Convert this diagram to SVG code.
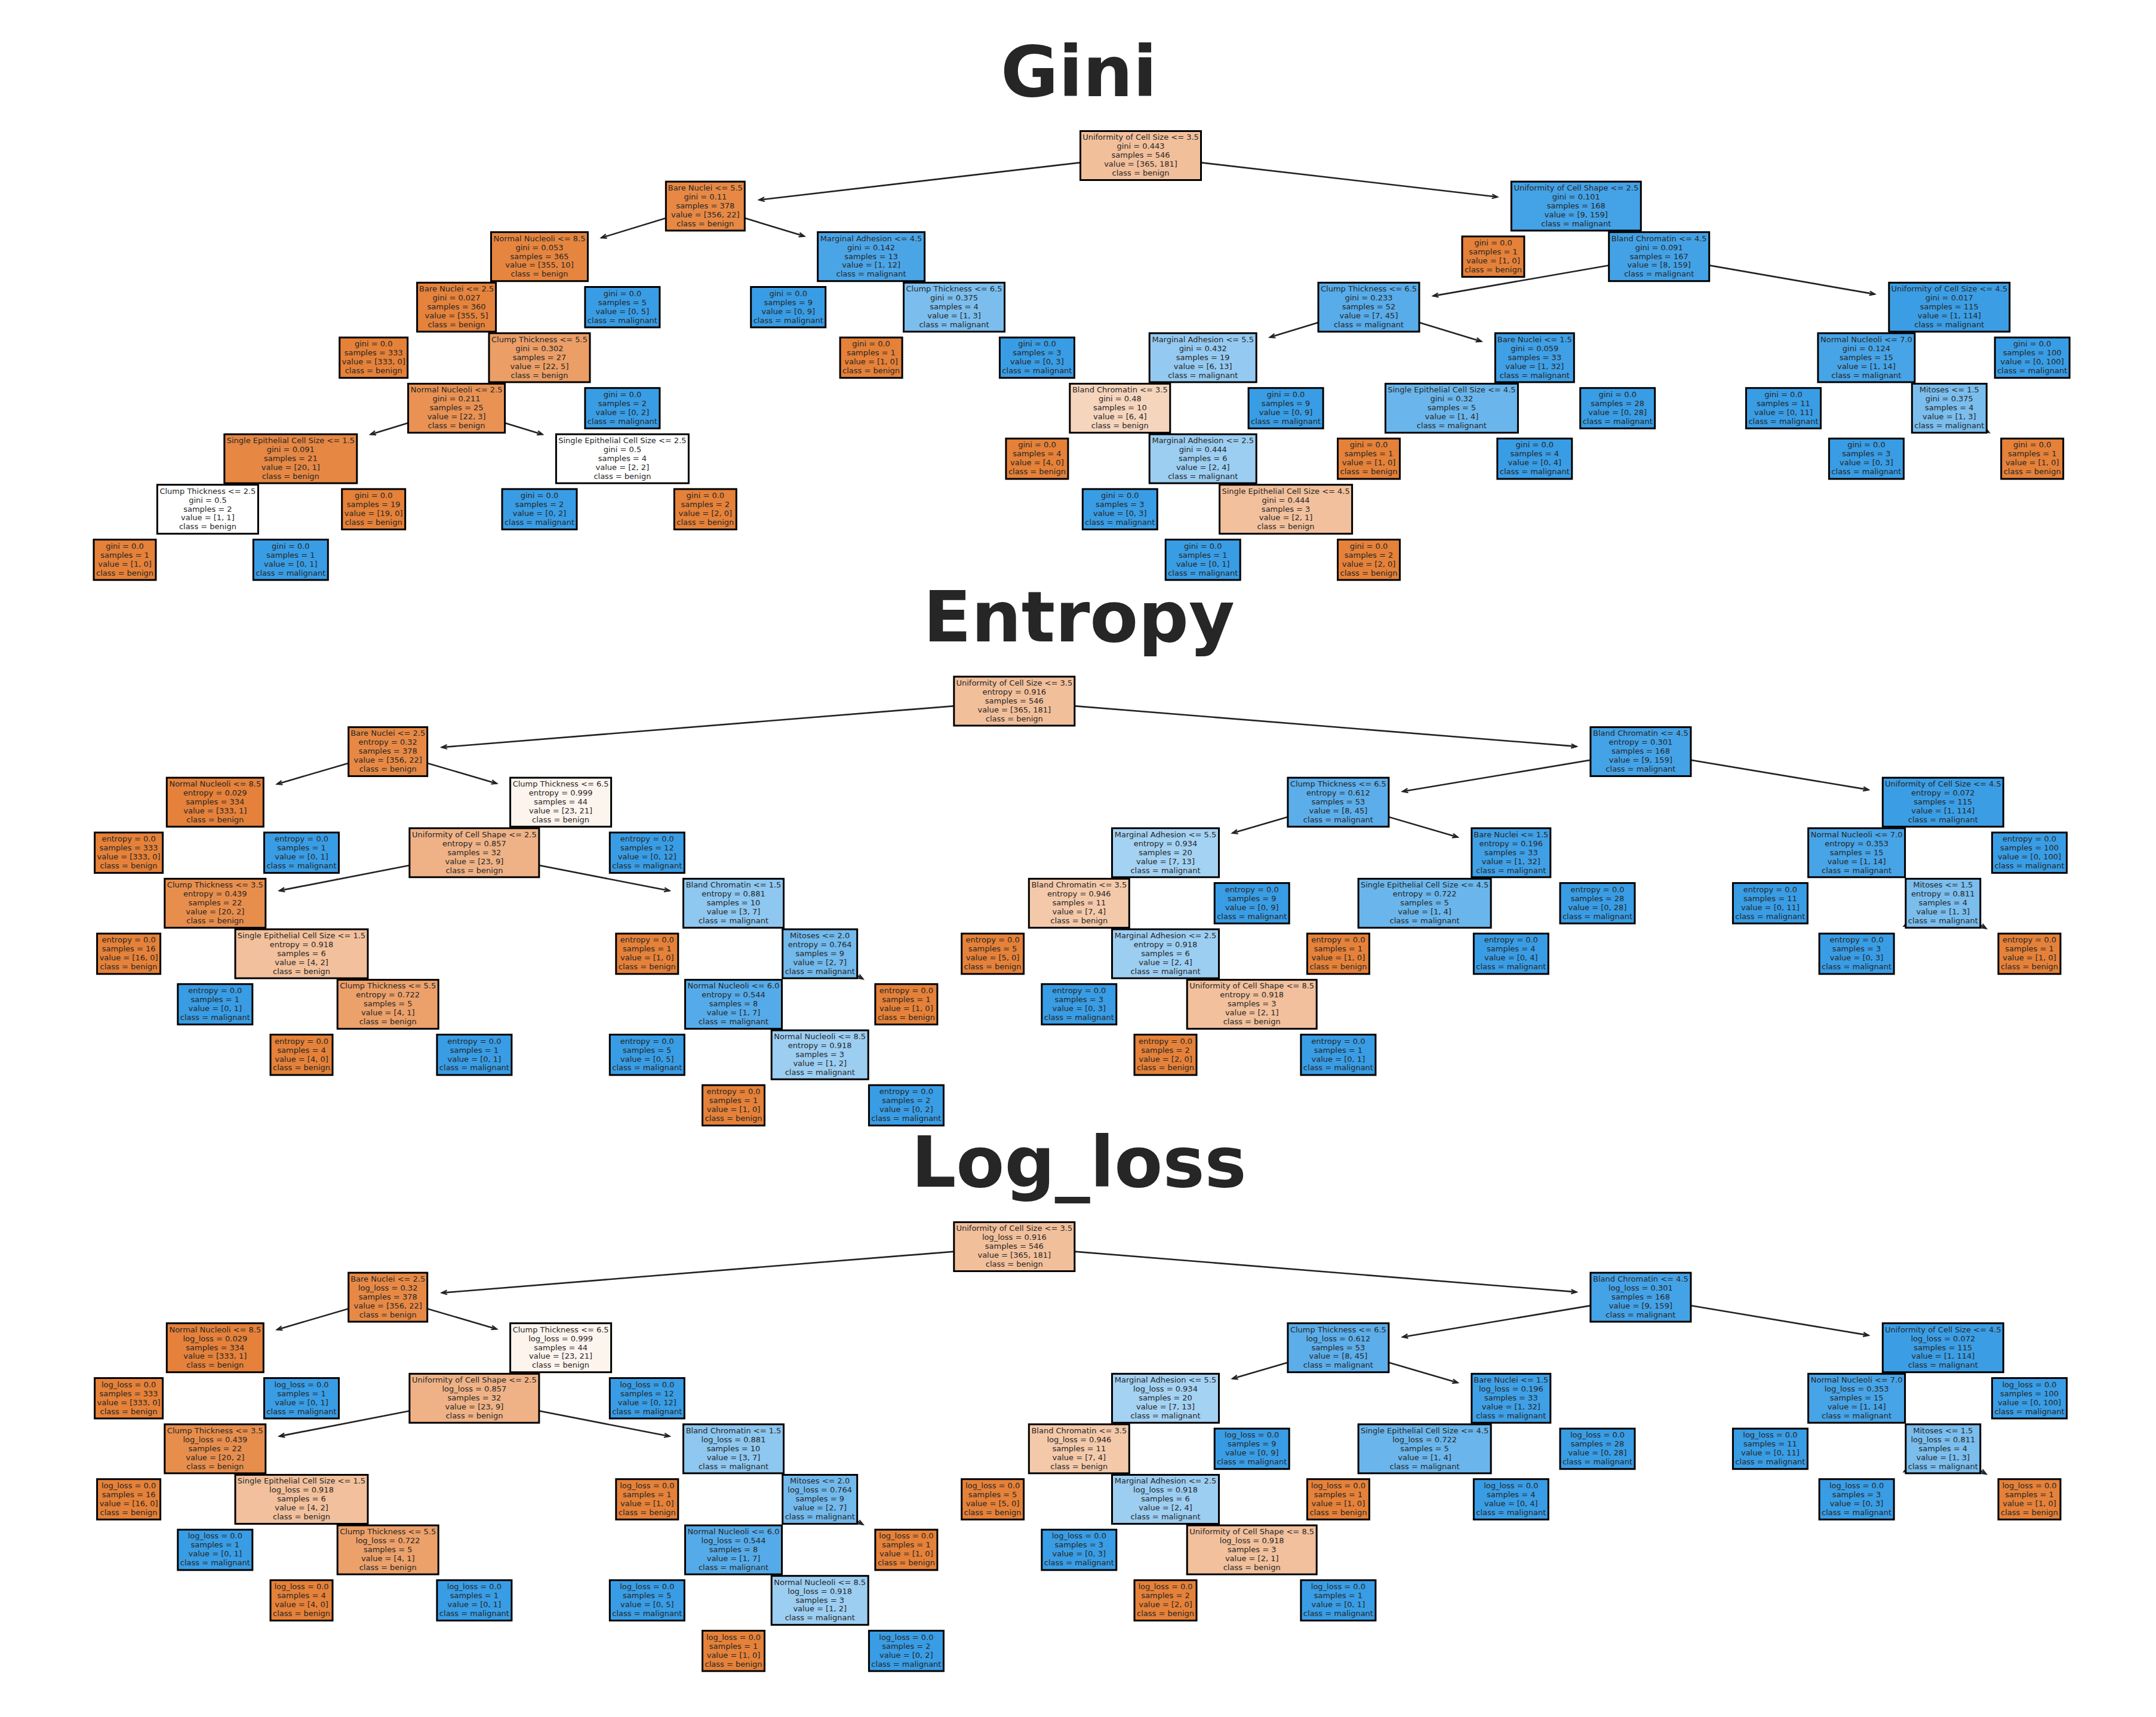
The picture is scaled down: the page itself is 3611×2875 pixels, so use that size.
<svg xmlns="http://www.w3.org/2000/svg" width="3611" height="2875" viewBox="0 0 3611 2875">
<defs>
<style>
text{font-family:"DejaVu Sans","Liberation Sans",sans-serif;font-size:13px;fill:#262626;text-anchor:middle}
text.t{font-weight:bold;font-size:118px}
rect{stroke:#000;stroke-width:3}
.B{fill:#e58139}
.M{fill:#399de5}
.c line{stroke:#222222;stroke-width:2.6;fill:none;marker-end:url(#ah)}
</style>
<marker id="ah" viewBox="0 0 12 10" markerWidth="12" markerHeight="10" refX="11" refY="5" orient="auto" markerUnits="userSpaceOnUse" overflow="visible"><path d="M2,1.5 L11,5 L2,8.5" fill="none" stroke="#222222" stroke-width="2.2"/></marker>
</defs>
<rect x="0" y="0" width="3611" height="2875" fill="#ffffff" style="stroke:none"/>
<text class="t" x="1807" y="160.5">Gini</text>
<text class="t" x="1807" y="1073.5">Entropy</text>
<text class="t" x="1807" y="1987">Log_loss</text>

<g id="connectors" class="c">
<g id="conn-gini">
<line x1="1910.5" y1="260.5" x2="1271.4" y2="334.7"/>
<line x1="1910.5" y1="260.5" x2="2507.9" y2="329.8"/>
<line x1="1181.3" y1="345.1" x2="1007.1" y2="398.2"/>
<line x1="1181.3" y1="345.1" x2="1347.1" y2="395.6"/>
<line x1="764.6" y1="683.5" x2="620.5" y2="727.4"/>
<line x1="764.6" y1="683.5" x2="908.7" y2="727.4"/>
<line x1="2778.7" y1="429.7" x2="2400.2" y2="495.6"/>
<line x1="2778.7" y1="429.7" x2="3140.1" y2="492.6"/>
<line x1="2292.5" y1="514.3" x2="2126.8" y2="564.8"/>
<line x1="2292.5" y1="514.3" x2="2481.1" y2="571.7"/>
<line x1="3264.8" y1="683.5" x2="3331.4" y2="724.1"/>
</g>
<g id="conn-entropy">
<line x1="1698.8" y1="1174" x2="739.8" y2="1251.3"/>
<line x1="1698.8" y1="1174" x2="2640.5" y2="1249.9"/>
<line x1="649.7" y1="1258.6" x2="463.9" y2="1312.9"/>
<line x1="649.7" y1="1258.6" x2="832" y2="1311.9"/>
<line x1="794.4" y1="1427.8" x2="467.9" y2="1491.4"/>
<line x1="794.4" y1="1427.8" x2="1121.4" y2="1491.5"/>
<line x1="1373.2" y1="1597" x2="1445.4" y2="1639.2"/>
<line x1="2747.9" y1="1258.6" x2="2349.1" y2="1325.2"/>
<line x1="2747.9" y1="1258.6" x2="3129.6" y2="1322.4"/>
<line x1="2241.4" y1="1343.2" x2="2064.1" y2="1395"/>
<line x1="2241.4" y1="1343.2" x2="2441.5" y2="1401.7"/>
<line x1="3254.3" y1="1512.4" x2="3189" y2="1550.6"/>
<line x1="3254.3" y1="1512.4" x2="3326.5" y2="1554.6"/>
</g>
<g id="conn-logloss" transform="translate(0,913.5)">
<line x1="1698.8" y1="1174" x2="739.8" y2="1251.3"/>
<line x1="1698.8" y1="1174" x2="2640.5" y2="1249.9"/>
<line x1="649.7" y1="1258.6" x2="463.9" y2="1312.9"/>
<line x1="649.7" y1="1258.6" x2="832" y2="1311.9"/>
<line x1="794.4" y1="1427.8" x2="467.9" y2="1491.4"/>
<line x1="794.4" y1="1427.8" x2="1121.4" y2="1491.5"/>
<line x1="1373.2" y1="1597" x2="1445.4" y2="1639.2"/>
<line x1="2747.9" y1="1258.6" x2="2349.1" y2="1325.2"/>
<line x1="2747.9" y1="1258.6" x2="3129.6" y2="1322.4"/>
<line x1="2241.4" y1="1343.2" x2="2064.1" y2="1395"/>
<line x1="2241.4" y1="1343.2" x2="2441.5" y2="1401.7"/>
<line x1="3254.3" y1="1512.4" x2="3189" y2="1550.6"/>
<line x1="3254.3" y1="1512.4" x2="3326.5" y2="1554.6"/>
</g>
</g>

<g id="tree-gini">
<g id="gini-n0" transform="translate(1910.5,260.5)"><rect x="-101" y="-41" width="202" height="82" fill="#f2bf9b"/><text y="-26.2"><tspan x="0">Uniformity of Cell Size &lt;= 3.5</tspan><tspan x="0" dy="15">gini = 0.443</tspan><tspan x="0" dy="15">samples = 546</tspan><tspan x="0" dy="15">value = [365, 181]</tspan><tspan x="0" dy="15">class = benign</tspan></text></g>
<g id="gini-n1" transform="translate(1181.3,345.1)"><rect x="-66" y="-41" width="132" height="82" fill="#e78945"/><text y="-26.2"><tspan x="0">Bare Nuclei &lt;= 5.5</tspan><tspan x="0" dy="15">gini = 0.11</tspan><tspan x="0" dy="15">samples = 378</tspan><tspan x="0" dy="15">value = [356, 22]</tspan><tspan x="0" dy="15">class = benign</tspan></text></g>
<g id="gini-n2" transform="translate(2639.8,345.1)"><rect x="-108.5" y="-41" width="217" height="82" fill="#44a2e6"/><text y="-26.2"><tspan x="0">Uniformity of Cell Shape &lt;= 2.5</tspan><tspan x="0" dy="15">gini = 0.101</tspan><tspan x="0" dy="15">samples = 168</tspan><tspan x="0" dy="15">value = [9, 159]</tspan><tspan x="0" dy="15">class = malignant</tspan></text></g>
<g id="gini-n3" transform="translate(903.5,429.7)"><rect x="-81" y="-41" width="162" height="82" fill="#e6853f"/><text y="-26.2"><tspan x="0">Normal Nucleoli &lt;= 8.5</tspan><tspan x="0" dy="15">gini = 0.053</tspan><tspan x="0" dy="15">samples = 365</tspan><tspan x="0" dy="15">value = [355, 10]</tspan><tspan x="0" dy="15">class = benign</tspan></text></g>
<g id="gini-n4" transform="translate(1459.1,429.7)"><rect x="-89.5" y="-41" width="179" height="82" fill="#4aa5e7"/><text y="-26.2"><tspan x="0">Marginal Adhesion &lt;= 4.5</tspan><tspan x="0" dy="15">gini = 0.142</tspan><tspan x="0" dy="15">samples = 13</tspan><tspan x="0" dy="15">value = [1, 12]</tspan><tspan x="0" dy="15">class = malignant</tspan></text></g>
<g id="gini-n5" transform="translate(2500.9,429.7)"><rect class="B" x="-52" y="-33.8" width="104" height="67.6"/><text y="-18.7"><tspan x="0">gini = 0.0</tspan><tspan x="0" dy="15">samples = 1</tspan><tspan x="0" dy="15">value = [1, 0]</tspan><tspan x="0" dy="15">class = benign</tspan></text></g>
<g id="gini-n6" transform="translate(2778.7,429.7)"><rect x="-84" y="-41" width="168" height="82" fill="#43a2e6"/><text y="-26.2"><tspan x="0">Bland Chromatin &lt;= 4.5</tspan><tspan x="0" dy="15">gini = 0.091</tspan><tspan x="0" dy="15">samples = 167</tspan><tspan x="0" dy="15">value = [8, 159]</tspan><tspan x="0" dy="15">class = malignant</tspan></text></g>
<g id="gini-n7" transform="translate(764.6,514.3)"><rect x="-66" y="-41" width="132" height="82" fill="#e5833c"/><text y="-26.2"><tspan x="0">Bare Nuclei &lt;= 2.5</tspan><tspan x="0" dy="15">gini = 0.027</tspan><tspan x="0" dy="15">samples = 360</tspan><tspan x="0" dy="15">value = [355, 5]</tspan><tspan x="0" dy="15">class = benign</tspan></text></g>
<g id="gini-n8" transform="translate(1042.4,514.3)"><rect class="M" x="-62.5" y="-33.8" width="125" height="67.6"/><text y="-18.7"><tspan x="0">gini = 0.0</tspan><tspan x="0" dy="15">samples = 5</tspan><tspan x="0" dy="15">value = [0, 5]</tspan><tspan x="0" dy="15">class = malignant</tspan></text></g>
<g id="gini-n9" transform="translate(1320.2,514.3)"><rect class="M" x="-62.5" y="-33.8" width="125" height="67.6"/><text y="-18.7"><tspan x="0">gini = 0.0</tspan><tspan x="0" dy="15">samples = 9</tspan><tspan x="0" dy="15">value = [0, 9]</tspan><tspan x="0" dy="15">class = malignant</tspan></text></g>
<g id="gini-n10" transform="translate(1598,514.3)"><rect x="-84.5" y="-41" width="169" height="82" fill="#7bbeee"/><text y="-26.2"><tspan x="0">Clump Thickness &lt;= 6.5</tspan><tspan x="0" dy="15">gini = 0.375</tspan><tspan x="0" dy="15">samples = 4</tspan><tspan x="0" dy="15">value = [1, 3]</tspan><tspan x="0" dy="15">class = malignant</tspan></text></g>
<g id="gini-n11" transform="translate(2292.5,514.3)"><rect x="-84.5" y="-41" width="169" height="82" fill="#58ace9"/><text y="-26.2"><tspan x="0">Clump Thickness &lt;= 6.5</tspan><tspan x="0" dy="15">gini = 0.233</tspan><tspan x="0" dy="15">samples = 52</tspan><tspan x="0" dy="15">value = [7, 45]</tspan><tspan x="0" dy="15">class = malignant</tspan></text></g>
<g id="gini-n12" transform="translate(3264.8,514.3)"><rect x="-101" y="-41" width="202" height="82" fill="#3b9ee5"/><text y="-26.2"><tspan x="0">Uniformity of Cell Size &lt;= 4.5</tspan><tspan x="0" dy="15">gini = 0.017</tspan><tspan x="0" dy="15">samples = 115</tspan><tspan x="0" dy="15">value = [1, 114]</tspan><tspan x="0" dy="15">class = malignant</tspan></text></g>
<g id="gini-n13" transform="translate(625.7,598.9)"><rect class="B" x="-57" y="-33.8" width="114" height="67.6"/><text y="-18.7"><tspan x="0">gini = 0.0</tspan><tspan x="0" dy="15">samples = 333</tspan><tspan x="0" dy="15">value = [333, 0]</tspan><tspan x="0" dy="15">class = benign</tspan></text></g>
<g id="gini-n14" transform="translate(903.5,598.9)"><rect x="-84.5" y="-41" width="169" height="82" fill="#eb9e66"/><text y="-26.2"><tspan x="0">Clump Thickness &lt;= 5.5</tspan><tspan x="0" dy="15">gini = 0.302</tspan><tspan x="0" dy="15">samples = 27</tspan><tspan x="0" dy="15">value = [22, 5]</tspan><tspan x="0" dy="15">class = benign</tspan></text></g>
<g id="gini-n15" transform="translate(1459.1,598.9)"><rect class="B" x="-52" y="-33.8" width="104" height="67.6"/><text y="-18.7"><tspan x="0">gini = 0.0</tspan><tspan x="0" dy="15">samples = 1</tspan><tspan x="0" dy="15">value = [1, 0]</tspan><tspan x="0" dy="15">class = benign</tspan></text></g>
<g id="gini-n16" transform="translate(1736.9,598.9)"><rect class="M" x="-62.5" y="-33.8" width="125" height="67.6"/><text y="-18.7"><tspan x="0">gini = 0.0</tspan><tspan x="0" dy="15">samples = 3</tspan><tspan x="0" dy="15">value = [0, 3]</tspan><tspan x="0" dy="15">class = malignant</tspan></text></g>
<g id="gini-n17" transform="translate(2014.7,598.9)"><rect x="-89.5" y="-41" width="179" height="82" fill="#94caf1"/><text y="-26.2"><tspan x="0">Marginal Adhesion &lt;= 5.5</tspan><tspan x="0" dy="15">gini = 0.432</tspan><tspan x="0" dy="15">samples = 19</tspan><tspan x="0" dy="15">value = [6, 13]</tspan><tspan x="0" dy="15">class = malignant</tspan></text></g>
<g id="gini-n18" transform="translate(2570.3,598.9)"><rect x="-66" y="-41" width="132" height="82" fill="#3fa0e6"/><text y="-26.2"><tspan x="0">Bare Nuclei &lt;= 1.5</tspan><tspan x="0" dy="15">gini = 0.059</tspan><tspan x="0" dy="15">samples = 33</tspan><tspan x="0" dy="15">value = [1, 32]</tspan><tspan x="0" dy="15">class = malignant</tspan></text></g>
<g id="gini-n19" transform="translate(3125.9,598.9)"><rect x="-81" y="-41" width="162" height="82" fill="#47a4e7"/><text y="-26.2"><tspan x="0">Normal Nucleoli &lt;= 7.0</tspan><tspan x="0" dy="15">gini = 0.124</tspan><tspan x="0" dy="15">samples = 15</tspan><tspan x="0" dy="15">value = [1, 14]</tspan><tspan x="0" dy="15">class = malignant</tspan></text></g>
<g id="gini-n20" transform="translate(3403.7,598.9)"><rect class="M" x="-62.5" y="-33.8" width="125" height="67.6"/><text y="-18.7"><tspan x="0">gini = 0.0</tspan><tspan x="0" dy="15">samples = 100</tspan><tspan x="0" dy="15">value = [0, 100]</tspan><tspan x="0" dy="15">class = malignant</tspan></text></g>
<g id="gini-n21" transform="translate(764.6,683.5)"><rect x="-81" y="-41" width="162" height="82" fill="#e99254"/><text y="-26.2"><tspan x="0">Normal Nucleoli &lt;= 2.5</tspan><tspan x="0" dy="15">gini = 0.211</tspan><tspan x="0" dy="15">samples = 25</tspan><tspan x="0" dy="15">value = [22, 3]</tspan><tspan x="0" dy="15">class = benign</tspan></text></g>
<g id="gini-n22" transform="translate(1042.4,683.5)"><rect class="M" x="-62.5" y="-33.8" width="125" height="67.6"/><text y="-18.7"><tspan x="0">gini = 0.0</tspan><tspan x="0" dy="15">samples = 2</tspan><tspan x="0" dy="15">value = [0, 2]</tspan><tspan x="0" dy="15">class = malignant</tspan></text></g>
<g id="gini-n23" transform="translate(1875.8,683.5)"><rect x="-84" y="-41" width="168" height="82" fill="#f6d5bd"/><text y="-26.2"><tspan x="0">Bland Chromatin &lt;= 3.5</tspan><tspan x="0" dy="15">gini = 0.48</tspan><tspan x="0" dy="15">samples = 10</tspan><tspan x="0" dy="15">value = [6, 4]</tspan><tspan x="0" dy="15">class = benign</tspan></text></g>
<g id="gini-n24" transform="translate(2153.6,683.5)"><rect class="M" x="-62.5" y="-33.8" width="125" height="67.6"/><text y="-18.7"><tspan x="0">gini = 0.0</tspan><tspan x="0" dy="15">samples = 9</tspan><tspan x="0" dy="15">value = [0, 9]</tspan><tspan x="0" dy="15">class = malignant</tspan></text></g>
<g id="gini-n25" transform="translate(2431.4,683.5)"><rect x="-111" y="-41" width="222" height="82" fill="#6ab6ec"/><text y="-26.2"><tspan x="0">Single Epithelial Cell Size &lt;= 4.5</tspan><tspan x="0" dy="15">gini = 0.32</tspan><tspan x="0" dy="15">samples = 5</tspan><tspan x="0" dy="15">value = [1, 4]</tspan><tspan x="0" dy="15">class = malignant</tspan></text></g>
<g id="gini-n26" transform="translate(2709.2,683.5)"><rect class="M" x="-62.5" y="-33.8" width="125" height="67.6"/><text y="-18.7"><tspan x="0">gini = 0.0</tspan><tspan x="0" dy="15">samples = 28</tspan><tspan x="0" dy="15">value = [0, 28]</tspan><tspan x="0" dy="15">class = malignant</tspan></text></g>
<g id="gini-n27" transform="translate(2987,683.5)"><rect class="M" x="-62.5" y="-33.8" width="125" height="67.6"/><text y="-18.7"><tspan x="0">gini = 0.0</tspan><tspan x="0" dy="15">samples = 11</tspan><tspan x="0" dy="15">value = [0, 11]</tspan><tspan x="0" dy="15">class = malignant</tspan></text></g>
<g id="gini-n28" transform="translate(3264.8,683.5)"><rect x="-62.5" y="-41" width="125" height="82" fill="#7bbeee"/><text y="-26.2"><tspan x="0">Mitoses &lt;= 1.5</tspan><tspan x="0" dy="15">gini = 0.375</tspan><tspan x="0" dy="15">samples = 4</tspan><tspan x="0" dy="15">value = [1, 3]</tspan><tspan x="0" dy="15">class = malignant</tspan></text></g>
<g id="gini-n29" transform="translate(486.8,768.1)"><rect x="-111" y="-41" width="222" height="82" fill="#e68743"/><text y="-26.2"><tspan x="0">Single Epithelial Cell Size &lt;= 1.5</tspan><tspan x="0" dy="15">gini = 0.091</tspan><tspan x="0" dy="15">samples = 21</tspan><tspan x="0" dy="15">value = [20, 1]</tspan><tspan x="0" dy="15">class = benign</tspan></text></g>
<g id="gini-n30" transform="translate(1042.4,768.1)"><rect x="-111" y="-41" width="222" height="82" fill="#ffffff"/><text y="-26.2"><tspan x="0">Single Epithelial Cell Size &lt;= 2.5</tspan><tspan x="0" dy="15">gini = 0.5</tspan><tspan x="0" dy="15">samples = 4</tspan><tspan x="0" dy="15">value = [2, 2]</tspan><tspan x="0" dy="15">class = benign</tspan></text></g>
<g id="gini-n31" transform="translate(1736.9,768.1)"><rect class="B" x="-52" y="-33.8" width="104" height="67.6"/><text y="-18.7"><tspan x="0">gini = 0.0</tspan><tspan x="0" dy="15">samples = 4</tspan><tspan x="0" dy="15">value = [4, 0]</tspan><tspan x="0" dy="15">class = benign</tspan></text></g>
<g id="gini-n32" transform="translate(2014.7,768.1)"><rect x="-89.5" y="-41" width="179" height="82" fill="#9ccef2"/><text y="-26.2"><tspan x="0">Marginal Adhesion &lt;= 2.5</tspan><tspan x="0" dy="15">gini = 0.444</tspan><tspan x="0" dy="15">samples = 6</tspan><tspan x="0" dy="15">value = [2, 4]</tspan><tspan x="0" dy="15">class = malignant</tspan></text></g>
<g id="gini-n33" transform="translate(2292.5,768.1)"><rect class="B" x="-52" y="-33.8" width="104" height="67.6"/><text y="-18.7"><tspan x="0">gini = 0.0</tspan><tspan x="0" dy="15">samples = 1</tspan><tspan x="0" dy="15">value = [1, 0]</tspan><tspan x="0" dy="15">class = benign</tspan></text></g>
<g id="gini-n34" transform="translate(2570.3,768.1)"><rect class="M" x="-62.5" y="-33.8" width="125" height="67.6"/><text y="-18.7"><tspan x="0">gini = 0.0</tspan><tspan x="0" dy="15">samples = 4</tspan><tspan x="0" dy="15">value = [0, 4]</tspan><tspan x="0" dy="15">class = malignant</tspan></text></g>
<g id="gini-n35" transform="translate(3125.9,768.1)"><rect class="M" x="-62.5" y="-33.8" width="125" height="67.6"/><text y="-18.7"><tspan x="0">gini = 0.0</tspan><tspan x="0" dy="15">samples = 3</tspan><tspan x="0" dy="15">value = [0, 3]</tspan><tspan x="0" dy="15">class = malignant</tspan></text></g>
<g id="gini-n36" transform="translate(3403.7,768.1)"><rect class="B" x="-52" y="-33.8" width="104" height="67.6"/><text y="-18.7"><tspan x="0">gini = 0.0</tspan><tspan x="0" dy="15">samples = 1</tspan><tspan x="0" dy="15">value = [1, 0]</tspan><tspan x="0" dy="15">class = benign</tspan></text></g>
<g id="gini-n37" transform="translate(347.9,852.7)"><rect x="-84.5" y="-41" width="169" height="82" fill="#ffffff"/><text y="-26.2"><tspan x="0">Clump Thickness &lt;= 2.5</tspan><tspan x="0" dy="15">gini = 0.5</tspan><tspan x="0" dy="15">samples = 2</tspan><tspan x="0" dy="15">value = [1, 1]</tspan><tspan x="0" dy="15">class = benign</tspan></text></g>
<g id="gini-n38" transform="translate(625.7,852.7)"><rect class="B" x="-53" y="-33.8" width="106" height="67.6"/><text y="-18.7"><tspan x="0">gini = 0.0</tspan><tspan x="0" dy="15">samples = 19</tspan><tspan x="0" dy="15">value = [19, 0]</tspan><tspan x="0" dy="15">class = benign</tspan></text></g>
<g id="gini-n39" transform="translate(903.5,852.7)"><rect class="M" x="-62.5" y="-33.8" width="125" height="67.6"/><text y="-18.7"><tspan x="0">gini = 0.0</tspan><tspan x="0" dy="15">samples = 2</tspan><tspan x="0" dy="15">value = [0, 2]</tspan><tspan x="0" dy="15">class = malignant</tspan></text></g>
<g id="gini-n40" transform="translate(1181.3,852.7)"><rect class="B" x="-52" y="-33.8" width="104" height="67.6"/><text y="-18.7"><tspan x="0">gini = 0.0</tspan><tspan x="0" dy="15">samples = 2</tspan><tspan x="0" dy="15">value = [2, 0]</tspan><tspan x="0" dy="15">class = benign</tspan></text></g>
<g id="gini-n41" transform="translate(1875.8,852.7)"><rect class="M" x="-62.5" y="-33.8" width="125" height="67.6"/><text y="-18.7"><tspan x="0">gini = 0.0</tspan><tspan x="0" dy="15">samples = 3</tspan><tspan x="0" dy="15">value = [0, 3]</tspan><tspan x="0" dy="15">class = malignant</tspan></text></g>
<g id="gini-n42" transform="translate(2153.6,852.7)"><rect x="-111" y="-41" width="222" height="82" fill="#f2c09c"/><text y="-26.2"><tspan x="0">Single Epithelial Cell Size &lt;= 4.5</tspan><tspan x="0" dy="15">gini = 0.444</tspan><tspan x="0" dy="15">samples = 3</tspan><tspan x="0" dy="15">value = [2, 1]</tspan><tspan x="0" dy="15">class = benign</tspan></text></g>
<g id="gini-n43" transform="translate(209,937.3)"><rect class="B" x="-52" y="-33.8" width="104" height="67.6"/><text y="-18.7"><tspan x="0">gini = 0.0</tspan><tspan x="0" dy="15">samples = 1</tspan><tspan x="0" dy="15">value = [1, 0]</tspan><tspan x="0" dy="15">class = benign</tspan></text></g>
<g id="gini-n44" transform="translate(486.8,937.3)"><rect class="M" x="-62.5" y="-33.8" width="125" height="67.6"/><text y="-18.7"><tspan x="0">gini = 0.0</tspan><tspan x="0" dy="15">samples = 1</tspan><tspan x="0" dy="15">value = [0, 1]</tspan><tspan x="0" dy="15">class = malignant</tspan></text></g>
<g id="gini-n45" transform="translate(2014.7,937.3)"><rect class="M" x="-62.5" y="-33.8" width="125" height="67.6"/><text y="-18.7"><tspan x="0">gini = 0.0</tspan><tspan x="0" dy="15">samples = 1</tspan><tspan x="0" dy="15">value = [0, 1]</tspan><tspan x="0" dy="15">class = malignant</tspan></text></g>
<g id="gini-n46" transform="translate(2292.5,937.3)"><rect class="B" x="-52" y="-33.8" width="104" height="67.6"/><text y="-18.7"><tspan x="0">gini = 0.0</tspan><tspan x="0" dy="15">samples = 2</tspan><tspan x="0" dy="15">value = [2, 0]</tspan><tspan x="0" dy="15">class = benign</tspan></text></g>
</g>

<g id="tree-entropy">
<g id="entropy-n0" transform="translate(1698.8,1174)"><rect x="-101" y="-41" width="202" height="82" fill="#f2bf9b"/><text y="-26.2"><tspan x="0">Uniformity of Cell Size &lt;= 3.5</tspan><tspan x="0" dy="15">entropy = 0.916</tspan><tspan x="0" dy="15">samples = 546</tspan><tspan x="0" dy="15">value = [365, 181]</tspan><tspan x="0" dy="15">class = benign</tspan></text></g>
<g id="entropy-n1" transform="translate(649.7,1258.6)"><rect x="-66" y="-41" width="132" height="82" fill="#e78945"/><text y="-26.2"><tspan x="0">Bare Nuclei &lt;= 2.5</tspan><tspan x="0" dy="15">entropy = 0.32</tspan><tspan x="0" dy="15">samples = 378</tspan><tspan x="0" dy="15">value = [356, 22]</tspan><tspan x="0" dy="15">class = benign</tspan></text></g>
<g id="entropy-n2" transform="translate(2747.9,1258.6)"><rect x="-84" y="-41" width="168" height="82" fill="#44a2e6"/><text y="-26.2"><tspan x="0">Bland Chromatin &lt;= 4.5</tspan><tspan x="0" dy="15">entropy = 0.301</tspan><tspan x="0" dy="15">samples = 168</tspan><tspan x="0" dy="15">value = [9, 159]</tspan><tspan x="0" dy="15">class = malignant</tspan></text></g>
<g id="entropy-n3" transform="translate(360.3,1343.2)"><rect x="-81" y="-41" width="162" height="82" fill="#e5813a"/><text y="-26.2"><tspan x="0">Normal Nucleoli &lt;= 8.5</tspan><tspan x="0" dy="15">entropy = 0.029</tspan><tspan x="0" dy="15">samples = 334</tspan><tspan x="0" dy="15">value = [333, 1]</tspan><tspan x="0" dy="15">class = benign</tspan></text></g>
<g id="entropy-n4" transform="translate(939.1,1343.2)"><rect x="-84.5" y="-41" width="169" height="82" fill="#fdf4ee"/><text y="-26.2"><tspan x="0">Clump Thickness &lt;= 6.5</tspan><tspan x="0" dy="15">entropy = 0.999</tspan><tspan x="0" dy="15">samples = 44</tspan><tspan x="0" dy="15">value = [23, 21]</tspan><tspan x="0" dy="15">class = benign</tspan></text></g>
<g id="entropy-n5" transform="translate(2241.4,1343.2)"><rect x="-84.5" y="-41" width="169" height="82" fill="#5caeea"/><text y="-26.2"><tspan x="0">Clump Thickness &lt;= 6.5</tspan><tspan x="0" dy="15">entropy = 0.612</tspan><tspan x="0" dy="15">samples = 53</tspan><tspan x="0" dy="15">value = [8, 45]</tspan><tspan x="0" dy="15">class = malignant</tspan></text></g>
<g id="entropy-n6" transform="translate(3254.3,1343.2)"><rect x="-101" y="-41" width="202" height="82" fill="#3b9ee5"/><text y="-26.2"><tspan x="0">Uniformity of Cell Size &lt;= 4.5</tspan><tspan x="0" dy="15">entropy = 0.072</tspan><tspan x="0" dy="15">samples = 115</tspan><tspan x="0" dy="15">value = [1, 114]</tspan><tspan x="0" dy="15">class = malignant</tspan></text></g>
<g id="entropy-n7" transform="translate(215.6,1427.8)"><rect class="B" x="-57" y="-33.8" width="114" height="67.6"/><text y="-18.7"><tspan x="0">entropy = 0.0</tspan><tspan x="0" dy="15">samples = 333</tspan><tspan x="0" dy="15">value = [333, 0]</tspan><tspan x="0" dy="15">class = benign</tspan></text></g>
<g id="entropy-n8" transform="translate(505,1427.8)"><rect class="M" x="-62.5" y="-33.8" width="125" height="67.6"/><text y="-18.7"><tspan x="0">entropy = 0.0</tspan><tspan x="0" dy="15">samples = 1</tspan><tspan x="0" dy="15">value = [0, 1]</tspan><tspan x="0" dy="15">class = malignant</tspan></text></g>
<g id="entropy-n9" transform="translate(794.4,1427.8)"><rect x="-108.5" y="-41" width="217" height="82" fill="#efb286"/><text y="-26.2"><tspan x="0">Uniformity of Cell Shape &lt;= 2.5</tspan><tspan x="0" dy="15">entropy = 0.857</tspan><tspan x="0" dy="15">samples = 32</tspan><tspan x="0" dy="15">value = [23, 9]</tspan><tspan x="0" dy="15">class = benign</tspan></text></g>
<g id="entropy-n10" transform="translate(1083.8,1427.8)"><rect class="M" x="-62.5" y="-33.8" width="125" height="67.6"/><text y="-18.7"><tspan x="0">entropy = 0.0</tspan><tspan x="0" dy="15">samples = 12</tspan><tspan x="0" dy="15">value = [0, 12]</tspan><tspan x="0" dy="15">class = malignant</tspan></text></g>
<g id="entropy-n11" transform="translate(1952,1427.8)"><rect x="-89.5" y="-41" width="179" height="82" fill="#a4d2f3"/><text y="-26.2"><tspan x="0">Marginal Adhesion &lt;= 5.5</tspan><tspan x="0" dy="15">entropy = 0.934</tspan><tspan x="0" dy="15">samples = 20</tspan><tspan x="0" dy="15">value = [7, 13]</tspan><tspan x="0" dy="15">class = malignant</tspan></text></g>
<g id="entropy-n12" transform="translate(2530.8,1427.8)"><rect x="-66" y="-41" width="132" height="82" fill="#3fa0e6"/><text y="-26.2"><tspan x="0">Bare Nuclei &lt;= 1.5</tspan><tspan x="0" dy="15">entropy = 0.196</tspan><tspan x="0" dy="15">samples = 33</tspan><tspan x="0" dy="15">value = [1, 32]</tspan><tspan x="0" dy="15">class = malignant</tspan></text></g>
<g id="entropy-n13" transform="translate(3109.6,1427.8)"><rect x="-81" y="-41" width="162" height="82" fill="#47a4e7"/><text y="-26.2"><tspan x="0">Normal Nucleoli &lt;= 7.0</tspan><tspan x="0" dy="15">entropy = 0.353</tspan><tspan x="0" dy="15">samples = 15</tspan><tspan x="0" dy="15">value = [1, 14]</tspan><tspan x="0" dy="15">class = malignant</tspan></text></g>
<g id="entropy-n14" transform="translate(3399,1427.8)"><rect class="M" x="-62.5" y="-33.8" width="125" height="67.6"/><text y="-18.7"><tspan x="0">entropy = 0.0</tspan><tspan x="0" dy="15">samples = 100</tspan><tspan x="0" dy="15">value = [0, 100]</tspan><tspan x="0" dy="15">class = malignant</tspan></text></g>
<g id="entropy-n15" transform="translate(360.3,1512.4)"><rect x="-84.5" y="-41" width="169" height="82" fill="#e88e4d"/><text y="-26.2"><tspan x="0">Clump Thickness &lt;= 3.5</tspan><tspan x="0" dy="15">entropy = 0.439</tspan><tspan x="0" dy="15">samples = 22</tspan><tspan x="0" dy="15">value = [20, 2]</tspan><tspan x="0" dy="15">class = benign</tspan></text></g>
<g id="entropy-n16" transform="translate(1228.5,1512.4)"><rect x="-84" y="-41" width="168" height="82" fill="#8ec7f0"/><text y="-26.2"><tspan x="0">Bland Chromatin &lt;= 1.5</tspan><tspan x="0" dy="15">entropy = 0.881</tspan><tspan x="0" dy="15">samples = 10</tspan><tspan x="0" dy="15">value = [3, 7]</tspan><tspan x="0" dy="15">class = malignant</tspan></text></g>
<g id="entropy-n17" transform="translate(1807.3,1512.4)"><rect x="-84" y="-41" width="168" height="82" fill="#f4c9aa"/><text y="-26.2"><tspan x="0">Bland Chromatin &lt;= 3.5</tspan><tspan x="0" dy="15">entropy = 0.946</tspan><tspan x="0" dy="15">samples = 11</tspan><tspan x="0" dy="15">value = [7, 4]</tspan><tspan x="0" dy="15">class = benign</tspan></text></g>
<g id="entropy-n18" transform="translate(2096.7,1512.4)"><rect class="M" x="-62.5" y="-33.8" width="125" height="67.6"/><text y="-18.7"><tspan x="0">entropy = 0.0</tspan><tspan x="0" dy="15">samples = 9</tspan><tspan x="0" dy="15">value = [0, 9]</tspan><tspan x="0" dy="15">class = malignant</tspan></text></g>
<g id="entropy-n19" transform="translate(2386.1,1512.4)"><rect x="-111" y="-41" width="222" height="82" fill="#6ab6ec"/><text y="-26.2"><tspan x="0">Single Epithelial Cell Size &lt;= 4.5</tspan><tspan x="0" dy="15">entropy = 0.722</tspan><tspan x="0" dy="15">samples = 5</tspan><tspan x="0" dy="15">value = [1, 4]</tspan><tspan x="0" dy="15">class = malignant</tspan></text></g>
<g id="entropy-n20" transform="translate(2675.5,1512.4)"><rect class="M" x="-62.5" y="-33.8" width="125" height="67.6"/><text y="-18.7"><tspan x="0">entropy = 0.0</tspan><tspan x="0" dy="15">samples = 28</tspan><tspan x="0" dy="15">value = [0, 28]</tspan><tspan x="0" dy="15">class = malignant</tspan></text></g>
<g id="entropy-n21" transform="translate(2964.9,1512.4)"><rect class="M" x="-62.5" y="-33.8" width="125" height="67.6"/><text y="-18.7"><tspan x="0">entropy = 0.0</tspan><tspan x="0" dy="15">samples = 11</tspan><tspan x="0" dy="15">value = [0, 11]</tspan><tspan x="0" dy="15">class = malignant</tspan></text></g>
<g id="entropy-n22" transform="translate(3254.3,1512.4)"><rect x="-62.5" y="-41" width="125" height="82" fill="#7bbeee"/><text y="-26.2"><tspan x="0">Mitoses &lt;= 1.5</tspan><tspan x="0" dy="15">entropy = 0.811</tspan><tspan x="0" dy="15">samples = 4</tspan><tspan x="0" dy="15">value = [1, 3]</tspan><tspan x="0" dy="15">class = malignant</tspan></text></g>
<g id="entropy-n23" transform="translate(215.6,1597)"><rect class="B" x="-53" y="-33.8" width="106" height="67.6"/><text y="-18.7"><tspan x="0">entropy = 0.0</tspan><tspan x="0" dy="15">samples = 16</tspan><tspan x="0" dy="15">value = [16, 0]</tspan><tspan x="0" dy="15">class = benign</tspan></text></g>
<g id="entropy-n24" transform="translate(505,1597)"><rect x="-111" y="-41" width="222" height="82" fill="#f2c09c"/><text y="-26.2"><tspan x="0">Single Epithelial Cell Size &lt;= 1.5</tspan><tspan x="0" dy="15">entropy = 0.918</tspan><tspan x="0" dy="15">samples = 6</tspan><tspan x="0" dy="15">value = [4, 2]</tspan><tspan x="0" dy="15">class = benign</tspan></text></g>
<g id="entropy-n25" transform="translate(1083.8,1597)"><rect class="B" x="-52" y="-33.8" width="104" height="67.6"/><text y="-18.7"><tspan x="0">entropy = 0.0</tspan><tspan x="0" dy="15">samples = 1</tspan><tspan x="0" dy="15">value = [1, 0]</tspan><tspan x="0" dy="15">class = benign</tspan></text></g>
<g id="entropy-n26" transform="translate(1373.2,1597)"><rect x="-62.5" y="-41" width="125" height="82" fill="#72b9ec"/><text y="-26.2"><tspan x="0">Mitoses &lt;= 2.0</tspan><tspan x="0" dy="15">entropy = 0.764</tspan><tspan x="0" dy="15">samples = 9</tspan><tspan x="0" dy="15">value = [2, 7]</tspan><tspan x="0" dy="15">class = malignant</tspan></text></g>
<g id="entropy-n27" transform="translate(1662.6,1597)"><rect class="B" x="-52" y="-33.8" width="104" height="67.6"/><text y="-18.7"><tspan x="0">entropy = 0.0</tspan><tspan x="0" dy="15">samples = 5</tspan><tspan x="0" dy="15">value = [5, 0]</tspan><tspan x="0" dy="15">class = benign</tspan></text></g>
<g id="entropy-n28" transform="translate(1952,1597)"><rect x="-89.5" y="-41" width="179" height="82" fill="#9ccef2"/><text y="-26.2"><tspan x="0">Marginal Adhesion &lt;= 2.5</tspan><tspan x="0" dy="15">entropy = 0.918</tspan><tspan x="0" dy="15">samples = 6</tspan><tspan x="0" dy="15">value = [2, 4]</tspan><tspan x="0" dy="15">class = malignant</tspan></text></g>
<g id="entropy-n29" transform="translate(2241.4,1597)"><rect class="B" x="-52" y="-33.8" width="104" height="67.6"/><text y="-18.7"><tspan x="0">entropy = 0.0</tspan><tspan x="0" dy="15">samples = 1</tspan><tspan x="0" dy="15">value = [1, 0]</tspan><tspan x="0" dy="15">class = benign</tspan></text></g>
<g id="entropy-n30" transform="translate(2530.8,1597)"><rect class="M" x="-62.5" y="-33.8" width="125" height="67.6"/><text y="-18.7"><tspan x="0">entropy = 0.0</tspan><tspan x="0" dy="15">samples = 4</tspan><tspan x="0" dy="15">value = [0, 4]</tspan><tspan x="0" dy="15">class = malignant</tspan></text></g>
<g id="entropy-n31" transform="translate(3109.6,1597)"><rect class="M" x="-62.5" y="-33.8" width="125" height="67.6"/><text y="-18.7"><tspan x="0">entropy = 0.0</tspan><tspan x="0" dy="15">samples = 3</tspan><tspan x="0" dy="15">value = [0, 3]</tspan><tspan x="0" dy="15">class = malignant</tspan></text></g>
<g id="entropy-n32" transform="translate(3399,1597)"><rect class="B" x="-52" y="-33.8" width="104" height="67.6"/><text y="-18.7"><tspan x="0">entropy = 0.0</tspan><tspan x="0" dy="15">samples = 1</tspan><tspan x="0" dy="15">value = [1, 0]</tspan><tspan x="0" dy="15">class = benign</tspan></text></g>
<g id="entropy-n33" transform="translate(360.3,1681.6)"><rect class="M" x="-62.5" y="-33.8" width="125" height="67.6"/><text y="-18.7"><tspan x="0">entropy = 0.0</tspan><tspan x="0" dy="15">samples = 1</tspan><tspan x="0" dy="15">value = [0, 1]</tspan><tspan x="0" dy="15">class = malignant</tspan></text></g>
<g id="entropy-n34" transform="translate(649.7,1681.6)"><rect x="-84.5" y="-41" width="169" height="82" fill="#eca06a"/><text y="-26.2"><tspan x="0">Clump Thickness &lt;= 5.5</tspan><tspan x="0" dy="15">entropy = 0.722</tspan><tspan x="0" dy="15">samples = 5</tspan><tspan x="0" dy="15">value = [4, 1]</tspan><tspan x="0" dy="15">class = benign</tspan></text></g>
<g id="entropy-n35" transform="translate(1228.5,1681.6)"><rect x="-81" y="-41" width="162" height="82" fill="#55abe9"/><text y="-26.2"><tspan x="0">Normal Nucleoli &lt;= 6.0</tspan><tspan x="0" dy="15">entropy = 0.544</tspan><tspan x="0" dy="15">samples = 8</tspan><tspan x="0" dy="15">value = [1, 7]</tspan><tspan x="0" dy="15">class = malignant</tspan></text></g>
<g id="entropy-n36" transform="translate(1517.9,1681.6)"><rect class="B" x="-52" y="-33.8" width="104" height="67.6"/><text y="-18.7"><tspan x="0">entropy = 0.0</tspan><tspan x="0" dy="15">samples = 1</tspan><tspan x="0" dy="15">value = [1, 0]</tspan><tspan x="0" dy="15">class = benign</tspan></text></g>
<g id="entropy-n37" transform="translate(1807.3,1681.6)"><rect class="M" x="-62.5" y="-33.8" width="125" height="67.6"/><text y="-18.7"><tspan x="0">entropy = 0.0</tspan><tspan x="0" dy="15">samples = 3</tspan><tspan x="0" dy="15">value = [0, 3]</tspan><tspan x="0" dy="15">class = malignant</tspan></text></g>
<g id="entropy-n38" transform="translate(2096.7,1681.6)"><rect x="-108.5" y="-41" width="217" height="82" fill="#f2c09c"/><text y="-26.2"><tspan x="0">Uniformity of Cell Shape &lt;= 8.5</tspan><tspan x="0" dy="15">entropy = 0.918</tspan><tspan x="0" dy="15">samples = 3</tspan><tspan x="0" dy="15">value = [2, 1]</tspan><tspan x="0" dy="15">class = benign</tspan></text></g>
<g id="entropy-n39" transform="translate(505,1766.2)"><rect class="B" x="-52" y="-33.8" width="104" height="67.6"/><text y="-18.7"><tspan x="0">entropy = 0.0</tspan><tspan x="0" dy="15">samples = 4</tspan><tspan x="0" dy="15">value = [4, 0]</tspan><tspan x="0" dy="15">class = benign</tspan></text></g>
<g id="entropy-n40" transform="translate(794.4,1766.2)"><rect class="M" x="-62.5" y="-33.8" width="125" height="67.6"/><text y="-18.7"><tspan x="0">entropy = 0.0</tspan><tspan x="0" dy="15">samples = 1</tspan><tspan x="0" dy="15">value = [0, 1]</tspan><tspan x="0" dy="15">class = malignant</tspan></text></g>
<g id="entropy-n41" transform="translate(1083.8,1766.2)"><rect class="M" x="-62.5" y="-33.8" width="125" height="67.6"/><text y="-18.7"><tspan x="0">entropy = 0.0</tspan><tspan x="0" dy="15">samples = 5</tspan><tspan x="0" dy="15">value = [0, 5]</tspan><tspan x="0" dy="15">class = malignant</tspan></text></g>
<g id="entropy-n42" transform="translate(1373.2,1766.2)"><rect x="-81" y="-41" width="162" height="82" fill="#9ccef2"/><text y="-26.2"><tspan x="0">Normal Nucleoli &lt;= 8.5</tspan><tspan x="0" dy="15">entropy = 0.918</tspan><tspan x="0" dy="15">samples = 3</tspan><tspan x="0" dy="15">value = [1, 2]</tspan><tspan x="0" dy="15">class = malignant</tspan></text></g>
<g id="entropy-n43" transform="translate(1952,1766.2)"><rect class="B" x="-52" y="-33.8" width="104" height="67.6"/><text y="-18.7"><tspan x="0">entropy = 0.0</tspan><tspan x="0" dy="15">samples = 2</tspan><tspan x="0" dy="15">value = [2, 0]</tspan><tspan x="0" dy="15">class = benign</tspan></text></g>
<g id="entropy-n44" transform="translate(2241.4,1766.2)"><rect class="M" x="-62.5" y="-33.8" width="125" height="67.6"/><text y="-18.7"><tspan x="0">entropy = 0.0</tspan><tspan x="0" dy="15">samples = 1</tspan><tspan x="0" dy="15">value = [0, 1]</tspan><tspan x="0" dy="15">class = malignant</tspan></text></g>
<g id="entropy-n45" transform="translate(1228.5,1850.8)"><rect class="B" x="-52" y="-33.8" width="104" height="67.6"/><text y="-18.7"><tspan x="0">entropy = 0.0</tspan><tspan x="0" dy="15">samples = 1</tspan><tspan x="0" dy="15">value = [1, 0]</tspan><tspan x="0" dy="15">class = benign</tspan></text></g>
<g id="entropy-n46" transform="translate(1517.9,1850.8)"><rect class="M" x="-62.5" y="-33.8" width="125" height="67.6"/><text y="-18.7"><tspan x="0">entropy = 0.0</tspan><tspan x="0" dy="15">samples = 2</tspan><tspan x="0" dy="15">value = [0, 2]</tspan><tspan x="0" dy="15">class = malignant</tspan></text></g>
</g>

<g id="tree-logloss" transform="translate(0,913.5)">
<g id="logloss-n0" transform="translate(1698.8,1174)"><rect x="-101" y="-41" width="202" height="82" fill="#f2bf9b"/><text y="-26.2"><tspan x="0">Uniformity of Cell Size &lt;= 3.5</tspan><tspan x="0" dy="15">log_loss = 0.916</tspan><tspan x="0" dy="15">samples = 546</tspan><tspan x="0" dy="15">value = [365, 181]</tspan><tspan x="0" dy="15">class = benign</tspan></text></g>
<g id="logloss-n1" transform="translate(649.7,1258.6)"><rect x="-66" y="-41" width="132" height="82" fill="#e78945"/><text y="-26.2"><tspan x="0">Bare Nuclei &lt;= 2.5</tspan><tspan x="0" dy="15">log_loss = 0.32</tspan><tspan x="0" dy="15">samples = 378</tspan><tspan x="0" dy="15">value = [356, 22]</tspan><tspan x="0" dy="15">class = benign</tspan></text></g>
<g id="logloss-n2" transform="translate(2747.9,1258.6)"><rect x="-84" y="-41" width="168" height="82" fill="#44a2e6"/><text y="-26.2"><tspan x="0">Bland Chromatin &lt;= 4.5</tspan><tspan x="0" dy="15">log_loss = 0.301</tspan><tspan x="0" dy="15">samples = 168</tspan><tspan x="0" dy="15">value = [9, 159]</tspan><tspan x="0" dy="15">class = malignant</tspan></text></g>
<g id="logloss-n3" transform="translate(360.3,1343.2)"><rect x="-81" y="-41" width="162" height="82" fill="#e5813a"/><text y="-26.2"><tspan x="0">Normal Nucleoli &lt;= 8.5</tspan><tspan x="0" dy="15">log_loss = 0.029</tspan><tspan x="0" dy="15">samples = 334</tspan><tspan x="0" dy="15">value = [333, 1]</tspan><tspan x="0" dy="15">class = benign</tspan></text></g>
<g id="logloss-n4" transform="translate(939.1,1343.2)"><rect x="-84.5" y="-41" width="169" height="82" fill="#fdf4ee"/><text y="-26.2"><tspan x="0">Clump Thickness &lt;= 6.5</tspan><tspan x="0" dy="15">log_loss = 0.999</tspan><tspan x="0" dy="15">samples = 44</tspan><tspan x="0" dy="15">value = [23, 21]</tspan><tspan x="0" dy="15">class = benign</tspan></text></g>
<g id="logloss-n5" transform="translate(2241.4,1343.2)"><rect x="-84.5" y="-41" width="169" height="82" fill="#5caeea"/><text y="-26.2"><tspan x="0">Clump Thickness &lt;= 6.5</tspan><tspan x="0" dy="15">log_loss = 0.612</tspan><tspan x="0" dy="15">samples = 53</tspan><tspan x="0" dy="15">value = [8, 45]</tspan><tspan x="0" dy="15">class = malignant</tspan></text></g>
<g id="logloss-n6" transform="translate(3254.3,1343.2)"><rect x="-101" y="-41" width="202" height="82" fill="#3b9ee5"/><text y="-26.2"><tspan x="0">Uniformity of Cell Size &lt;= 4.5</tspan><tspan x="0" dy="15">log_loss = 0.072</tspan><tspan x="0" dy="15">samples = 115</tspan><tspan x="0" dy="15">value = [1, 114]</tspan><tspan x="0" dy="15">class = malignant</tspan></text></g>
<g id="logloss-n7" transform="translate(215.6,1427.8)"><rect class="B" x="-57" y="-33.8" width="114" height="67.6"/><text y="-18.7"><tspan x="0">log_loss = 0.0</tspan><tspan x="0" dy="15">samples = 333</tspan><tspan x="0" dy="15">value = [333, 0]</tspan><tspan x="0" dy="15">class = benign</tspan></text></g>
<g id="logloss-n8" transform="translate(505,1427.8)"><rect class="M" x="-62.5" y="-33.8" width="125" height="67.6"/><text y="-18.7"><tspan x="0">log_loss = 0.0</tspan><tspan x="0" dy="15">samples = 1</tspan><tspan x="0" dy="15">value = [0, 1]</tspan><tspan x="0" dy="15">class = malignant</tspan></text></g>
<g id="logloss-n9" transform="translate(794.4,1427.8)"><rect x="-108.5" y="-41" width="217" height="82" fill="#efb286"/><text y="-26.2"><tspan x="0">Uniformity of Cell Shape &lt;= 2.5</tspan><tspan x="0" dy="15">log_loss = 0.857</tspan><tspan x="0" dy="15">samples = 32</tspan><tspan x="0" dy="15">value = [23, 9]</tspan><tspan x="0" dy="15">class = benign</tspan></text></g>
<g id="logloss-n10" transform="translate(1083.8,1427.8)"><rect class="M" x="-62.5" y="-33.8" width="125" height="67.6"/><text y="-18.7"><tspan x="0">log_loss = 0.0</tspan><tspan x="0" dy="15">samples = 12</tspan><tspan x="0" dy="15">value = [0, 12]</tspan><tspan x="0" dy="15">class = malignant</tspan></text></g>
<g id="logloss-n11" transform="translate(1952,1427.8)"><rect x="-89.5" y="-41" width="179" height="82" fill="#a4d2f3"/><text y="-26.2"><tspan x="0">Marginal Adhesion &lt;= 5.5</tspan><tspan x="0" dy="15">log_loss = 0.934</tspan><tspan x="0" dy="15">samples = 20</tspan><tspan x="0" dy="15">value = [7, 13]</tspan><tspan x="0" dy="15">class = malignant</tspan></text></g>
<g id="logloss-n12" transform="translate(2530.8,1427.8)"><rect x="-66" y="-41" width="132" height="82" fill="#3fa0e6"/><text y="-26.2"><tspan x="0">Bare Nuclei &lt;= 1.5</tspan><tspan x="0" dy="15">log_loss = 0.196</tspan><tspan x="0" dy="15">samples = 33</tspan><tspan x="0" dy="15">value = [1, 32]</tspan><tspan x="0" dy="15">class = malignant</tspan></text></g>
<g id="logloss-n13" transform="translate(3109.6,1427.8)"><rect x="-81" y="-41" width="162" height="82" fill="#47a4e7"/><text y="-26.2"><tspan x="0">Normal Nucleoli &lt;= 7.0</tspan><tspan x="0" dy="15">log_loss = 0.353</tspan><tspan x="0" dy="15">samples = 15</tspan><tspan x="0" dy="15">value = [1, 14]</tspan><tspan x="0" dy="15">class = malignant</tspan></text></g>
<g id="logloss-n14" transform="translate(3399,1427.8)"><rect class="M" x="-62.5" y="-33.8" width="125" height="67.6"/><text y="-18.7"><tspan x="0">log_loss = 0.0</tspan><tspan x="0" dy="15">samples = 100</tspan><tspan x="0" dy="15">value = [0, 100]</tspan><tspan x="0" dy="15">class = malignant</tspan></text></g>
<g id="logloss-n15" transform="translate(360.3,1512.4)"><rect x="-84.5" y="-41" width="169" height="82" fill="#e88e4d"/><text y="-26.2"><tspan x="0">Clump Thickness &lt;= 3.5</tspan><tspan x="0" dy="15">log_loss = 0.439</tspan><tspan x="0" dy="15">samples = 22</tspan><tspan x="0" dy="15">value = [20, 2]</tspan><tspan x="0" dy="15">class = benign</tspan></text></g>
<g id="logloss-n16" transform="translate(1228.5,1512.4)"><rect x="-84" y="-41" width="168" height="82" fill="#8ec7f0"/><text y="-26.2"><tspan x="0">Bland Chromatin &lt;= 1.5</tspan><tspan x="0" dy="15">log_loss = 0.881</tspan><tspan x="0" dy="15">samples = 10</tspan><tspan x="0" dy="15">value = [3, 7]</tspan><tspan x="0" dy="15">class = malignant</tspan></text></g>
<g id="logloss-n17" transform="translate(1807.3,1512.4)"><rect x="-84" y="-41" width="168" height="82" fill="#f4c9aa"/><text y="-26.2"><tspan x="0">Bland Chromatin &lt;= 3.5</tspan><tspan x="0" dy="15">log_loss = 0.946</tspan><tspan x="0" dy="15">samples = 11</tspan><tspan x="0" dy="15">value = [7, 4]</tspan><tspan x="0" dy="15">class = benign</tspan></text></g>
<g id="logloss-n18" transform="translate(2096.7,1512.4)"><rect class="M" x="-62.5" y="-33.8" width="125" height="67.6"/><text y="-18.7"><tspan x="0">log_loss = 0.0</tspan><tspan x="0" dy="15">samples = 9</tspan><tspan x="0" dy="15">value = [0, 9]</tspan><tspan x="0" dy="15">class = malignant</tspan></text></g>
<g id="logloss-n19" transform="translate(2386.1,1512.4)"><rect x="-111" y="-41" width="222" height="82" fill="#6ab6ec"/><text y="-26.2"><tspan x="0">Single Epithelial Cell Size &lt;= 4.5</tspan><tspan x="0" dy="15">log_loss = 0.722</tspan><tspan x="0" dy="15">samples = 5</tspan><tspan x="0" dy="15">value = [1, 4]</tspan><tspan x="0" dy="15">class = malignant</tspan></text></g>
<g id="logloss-n20" transform="translate(2675.5,1512.4)"><rect class="M" x="-62.5" y="-33.8" width="125" height="67.6"/><text y="-18.7"><tspan x="0">log_loss = 0.0</tspan><tspan x="0" dy="15">samples = 28</tspan><tspan x="0" dy="15">value = [0, 28]</tspan><tspan x="0" dy="15">class = malignant</tspan></text></g>
<g id="logloss-n21" transform="translate(2964.9,1512.4)"><rect class="M" x="-62.5" y="-33.8" width="125" height="67.6"/><text y="-18.7"><tspan x="0">log_loss = 0.0</tspan><tspan x="0" dy="15">samples = 11</tspan><tspan x="0" dy="15">value = [0, 11]</tspan><tspan x="0" dy="15">class = malignant</tspan></text></g>
<g id="logloss-n22" transform="translate(3254.3,1512.4)"><rect x="-62.5" y="-41" width="125" height="82" fill="#7bbeee"/><text y="-26.2"><tspan x="0">Mitoses &lt;= 1.5</tspan><tspan x="0" dy="15">log_loss = 0.811</tspan><tspan x="0" dy="15">samples = 4</tspan><tspan x="0" dy="15">value = [1, 3]</tspan><tspan x="0" dy="15">class = malignant</tspan></text></g>
<g id="logloss-n23" transform="translate(215.6,1597)"><rect class="B" x="-53" y="-33.8" width="106" height="67.6"/><text y="-18.7"><tspan x="0">log_loss = 0.0</tspan><tspan x="0" dy="15">samples = 16</tspan><tspan x="0" dy="15">value = [16, 0]</tspan><tspan x="0" dy="15">class = benign</tspan></text></g>
<g id="logloss-n24" transform="translate(505,1597)"><rect x="-111" y="-41" width="222" height="82" fill="#f2c09c"/><text y="-26.2"><tspan x="0">Single Epithelial Cell Size &lt;= 1.5</tspan><tspan x="0" dy="15">log_loss = 0.918</tspan><tspan x="0" dy="15">samples = 6</tspan><tspan x="0" dy="15">value = [4, 2]</tspan><tspan x="0" dy="15">class = benign</tspan></text></g>
<g id="logloss-n25" transform="translate(1083.8,1597)"><rect class="B" x="-52" y="-33.8" width="104" height="67.6"/><text y="-18.7"><tspan x="0">log_loss = 0.0</tspan><tspan x="0" dy="15">samples = 1</tspan><tspan x="0" dy="15">value = [1, 0]</tspan><tspan x="0" dy="15">class = benign</tspan></text></g>
<g id="logloss-n26" transform="translate(1373.2,1597)"><rect x="-62.5" y="-41" width="125" height="82" fill="#72b9ec"/><text y="-26.2"><tspan x="0">Mitoses &lt;= 2.0</tspan><tspan x="0" dy="15">log_loss = 0.764</tspan><tspan x="0" dy="15">samples = 9</tspan><tspan x="0" dy="15">value = [2, 7]</tspan><tspan x="0" dy="15">class = malignant</tspan></text></g>
<g id="logloss-n27" transform="translate(1662.6,1597)"><rect class="B" x="-52" y="-33.8" width="104" height="67.6"/><text y="-18.7"><tspan x="0">log_loss = 0.0</tspan><tspan x="0" dy="15">samples = 5</tspan><tspan x="0" dy="15">value = [5, 0]</tspan><tspan x="0" dy="15">class = benign</tspan></text></g>
<g id="logloss-n28" transform="translate(1952,1597)"><rect x="-89.5" y="-41" width="179" height="82" fill="#9ccef2"/><text y="-26.2"><tspan x="0">Marginal Adhesion &lt;= 2.5</tspan><tspan x="0" dy="15">log_loss = 0.918</tspan><tspan x="0" dy="15">samples = 6</tspan><tspan x="0" dy="15">value = [2, 4]</tspan><tspan x="0" dy="15">class = malignant</tspan></text></g>
<g id="logloss-n29" transform="translate(2241.4,1597)"><rect class="B" x="-52" y="-33.8" width="104" height="67.6"/><text y="-18.7"><tspan x="0">log_loss = 0.0</tspan><tspan x="0" dy="15">samples = 1</tspan><tspan x="0" dy="15">value = [1, 0]</tspan><tspan x="0" dy="15">class = benign</tspan></text></g>
<g id="logloss-n30" transform="translate(2530.8,1597)"><rect class="M" x="-62.5" y="-33.8" width="125" height="67.6"/><text y="-18.7"><tspan x="0">log_loss = 0.0</tspan><tspan x="0" dy="15">samples = 4</tspan><tspan x="0" dy="15">value = [0, 4]</tspan><tspan x="0" dy="15">class = malignant</tspan></text></g>
<g id="logloss-n31" transform="translate(3109.6,1597)"><rect class="M" x="-62.5" y="-33.8" width="125" height="67.6"/><text y="-18.7"><tspan x="0">log_loss = 0.0</tspan><tspan x="0" dy="15">samples = 3</tspan><tspan x="0" dy="15">value = [0, 3]</tspan><tspan x="0" dy="15">class = malignant</tspan></text></g>
<g id="logloss-n32" transform="translate(3399,1597)"><rect class="B" x="-52" y="-33.8" width="104" height="67.6"/><text y="-18.7"><tspan x="0">log_loss = 0.0</tspan><tspan x="0" dy="15">samples = 1</tspan><tspan x="0" dy="15">value = [1, 0]</tspan><tspan x="0" dy="15">class = benign</tspan></text></g>
<g id="logloss-n33" transform="translate(360.3,1681.6)"><rect class="M" x="-62.5" y="-33.8" width="125" height="67.6"/><text y="-18.7"><tspan x="0">log_loss = 0.0</tspan><tspan x="0" dy="15">samples = 1</tspan><tspan x="0" dy="15">value = [0, 1]</tspan><tspan x="0" dy="15">class = malignant</tspan></text></g>
<g id="logloss-n34" transform="translate(649.7,1681.6)"><rect x="-84.5" y="-41" width="169" height="82" fill="#eca06a"/><text y="-26.2"><tspan x="0">Clump Thickness &lt;= 5.5</tspan><tspan x="0" dy="15">log_loss = 0.722</tspan><tspan x="0" dy="15">samples = 5</tspan><tspan x="0" dy="15">value = [4, 1]</tspan><tspan x="0" dy="15">class = benign</tspan></text></g>
<g id="logloss-n35" transform="translate(1228.5,1681.6)"><rect x="-81" y="-41" width="162" height="82" fill="#55abe9"/><text y="-26.2"><tspan x="0">Normal Nucleoli &lt;= 6.0</tspan><tspan x="0" dy="15">log_loss = 0.544</tspan><tspan x="0" dy="15">samples = 8</tspan><tspan x="0" dy="15">value = [1, 7]</tspan><tspan x="0" dy="15">class = malignant</tspan></text></g>
<g id="logloss-n36" transform="translate(1517.9,1681.6)"><rect class="B" x="-52" y="-33.8" width="104" height="67.6"/><text y="-18.7"><tspan x="0">log_loss = 0.0</tspan><tspan x="0" dy="15">samples = 1</tspan><tspan x="0" dy="15">value = [1, 0]</tspan><tspan x="0" dy="15">class = benign</tspan></text></g>
<g id="logloss-n37" transform="translate(1807.3,1681.6)"><rect class="M" x="-62.5" y="-33.8" width="125" height="67.6"/><text y="-18.7"><tspan x="0">log_loss = 0.0</tspan><tspan x="0" dy="15">samples = 3</tspan><tspan x="0" dy="15">value = [0, 3]</tspan><tspan x="0" dy="15">class = malignant</tspan></text></g>
<g id="logloss-n38" transform="translate(2096.7,1681.6)"><rect x="-108.5" y="-41" width="217" height="82" fill="#f2c09c"/><text y="-26.2"><tspan x="0">Uniformity of Cell Shape &lt;= 8.5</tspan><tspan x="0" dy="15">log_loss = 0.918</tspan><tspan x="0" dy="15">samples = 3</tspan><tspan x="0" dy="15">value = [2, 1]</tspan><tspan x="0" dy="15">class = benign</tspan></text></g>
<g id="logloss-n39" transform="translate(505,1766.2)"><rect class="B" x="-52" y="-33.8" width="104" height="67.6"/><text y="-18.7"><tspan x="0">log_loss = 0.0</tspan><tspan x="0" dy="15">samples = 4</tspan><tspan x="0" dy="15">value = [4, 0]</tspan><tspan x="0" dy="15">class = benign</tspan></text></g>
<g id="logloss-n40" transform="translate(794.4,1766.2)"><rect class="M" x="-62.5" y="-33.8" width="125" height="67.6"/><text y="-18.7"><tspan x="0">log_loss = 0.0</tspan><tspan x="0" dy="15">samples = 1</tspan><tspan x="0" dy="15">value = [0, 1]</tspan><tspan x="0" dy="15">class = malignant</tspan></text></g>
<g id="logloss-n41" transform="translate(1083.8,1766.2)"><rect class="M" x="-62.5" y="-33.8" width="125" height="67.6"/><text y="-18.7"><tspan x="0">log_loss = 0.0</tspan><tspan x="0" dy="15">samples = 5</tspan><tspan x="0" dy="15">value = [0, 5]</tspan><tspan x="0" dy="15">class = malignant</tspan></text></g>
<g id="logloss-n42" transform="translate(1373.2,1766.2)"><rect x="-81" y="-41" width="162" height="82" fill="#9ccef2"/><text y="-26.2"><tspan x="0">Normal Nucleoli &lt;= 8.5</tspan><tspan x="0" dy="15">log_loss = 0.918</tspan><tspan x="0" dy="15">samples = 3</tspan><tspan x="0" dy="15">value = [1, 2]</tspan><tspan x="0" dy="15">class = malignant</tspan></text></g>
<g id="logloss-n43" transform="translate(1952,1766.2)"><rect class="B" x="-52" y="-33.8" width="104" height="67.6"/><text y="-18.7"><tspan x="0">log_loss = 0.0</tspan><tspan x="0" dy="15">samples = 2</tspan><tspan x="0" dy="15">value = [2, 0]</tspan><tspan x="0" dy="15">class = benign</tspan></text></g>
<g id="logloss-n44" transform="translate(2241.4,1766.2)"><rect class="M" x="-62.5" y="-33.8" width="125" height="67.6"/><text y="-18.7"><tspan x="0">log_loss = 0.0</tspan><tspan x="0" dy="15">samples = 1</tspan><tspan x="0" dy="15">value = [0, 1]</tspan><tspan x="0" dy="15">class = malignant</tspan></text></g>
<g id="logloss-n45" transform="translate(1228.5,1850.8)"><rect class="B" x="-52" y="-33.8" width="104" height="67.6"/><text y="-18.7"><tspan x="0">log_loss = 0.0</tspan><tspan x="0" dy="15">samples = 1</tspan><tspan x="0" dy="15">value = [1, 0]</tspan><tspan x="0" dy="15">class = benign</tspan></text></g>
<g id="logloss-n46" transform="translate(1517.9,1850.8)"><rect class="M" x="-62.5" y="-33.8" width="125" height="67.6"/><text y="-18.7"><tspan x="0">log_loss = 0.0</tspan><tspan x="0" dy="15">samples = 2</tspan><tspan x="0" dy="15">value = [0, 2]</tspan><tspan x="0" dy="15">class = malignant</tspan></text></g>
</g>
</svg>
